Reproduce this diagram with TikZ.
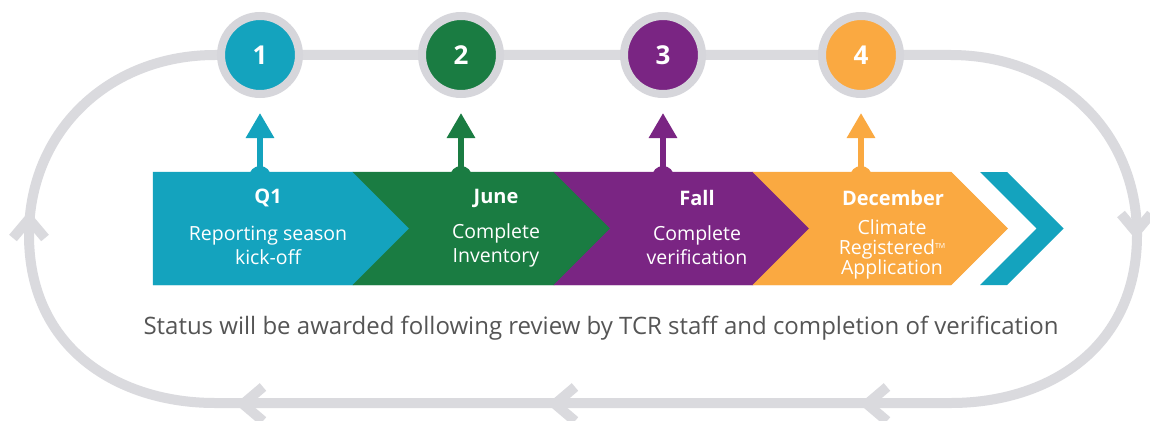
\documentclass[tikz,border=0pt]{standalone}
\usepackage{fontspec}
\setmainfont{Open Sans}
\usetikzlibrary{arrows.meta}
\definecolor{cteal}{RGB}{20,163,190}
\definecolor{cgreen}{RGB}{26,124,66}
\definecolor{cpurple}{RGB}{122,37,131}
\definecolor{corange}{RGB}{250,169,65}
\definecolor{cloop}{RGB}{218,218,222}
\definecolor{cring}{RGB}{214,214,219}
\definecolor{ctext}{RGB}{85,85,85}
\begin{document}
\begin{tikzpicture}[x=1pt,y=-1pt,
  loopline/.style={draw=cloop,line width=10pt,line join=round},
  chev/.style={draw=cloop,line width=10pt,line cap=butt,line join=miter},
  numcirc/.style={circle,minimum size=78pt,inner sep=0pt,draw=cring,line width=8pt,
    font=\bfseries\fontsize{26}{26}\selectfont,text=white},
  seghead/.style={font=\bfseries\fontsize{20}{20}\selectfont,text=white},
  segtext/.style={font=\fontsize{19.5}{24}\selectfont,text=white,align=center},
  segtextb/.style={font=\fontsize{19.5}{20}\selectfont,text=white,align=center},
  statust/.style={font=\fontsize{24}{24}\selectfont,text=ctext},
  upar/.style={line width=6pt,-{Triangle[width=27pt,length=25pt]},shorten >=15pt},
  seg/.style={line width=0.4pt}
]
\useasboundingbox (0,0) rectangle (1150,420);
\fill[white] (0,0) rectangle (1150,420);

% loop
\draw[loopline] (583,55) -- (951,55) .. controls (1056,55) and (1137,130) .. (1137,235)
  .. controls (1137,350) and (1046,403) .. (951,403) -- (215,403)
  .. controls (120,403) and (29,350) .. (29,235)
  .. controls (29,130) and (110,55) .. (215,55) -- (583,55);
% direction chevrons on the loop
\draw[chev] (13,238) -- (29,219) -- (45,238);
\draw[chev] (1121,214) -- (1136,232) -- (1151,214);
\draw[chev] (263,387) -- (243,404) -- (263,421);
\draw[chev] (575,387) -- (555,404) -- (575,421);
\draw[chev] (887,387) -- (867,404) -- (887,421);

% number circles
\node[numcirc,fill=cteal] (c1) at (260,55) {1};
\node[numcirc,fill=cgreen] (c2) at (461,55) {2};
\node[numcirc,fill=cpurple] (c3) at (663,55) {3};
\node[numcirc,fill=corange] (c4) at (861,55) {4};

% bumps under the arrows
\fill[cteal] (260,177) circle (11);
\fill[cgreen] (461,177) circle (11);
\fill[cpurple] (663,177) circle (11);
\fill[corange] (861,177) circle (11);

% banner segments
\filldraw[seg,fill=cteal,draw=cteal] (153,172) -- (353,172) -- (409.5,228.5) -- (353,285) -- (153,285) -- cycle;
\filldraw[seg,fill=cgreen,draw=cgreen] (353,172) -- (554,172) -- (610.5,228.5) -- (554,285) -- (353,285) -- (409.5,228.5) -- cycle;
\filldraw[seg,fill=cpurple,draw=cpurple] (554,172) -- (753,172) -- (809.5,228.5) -- (753,285) -- (554,285) -- (610.5,228.5) -- cycle;
\filldraw[seg,fill=corange,draw=corange] (753,172) -- (951,172) -- (1007.5,228.5) -- (951,285) -- (753,285) -- (809.5,228.5) -- cycle;
\fill[cteal] (980,172) -- (1007,172) -- (1063.5,228.5) -- (1007,285) -- (980,285) -- (1036.5,228.5) -- cycle;

% arrows from banner to circles
\coordinate (b1) at (260,176);
\coordinate (b2) at (461,176);
\coordinate (b3) at (663,176);
\coordinate (b4) at (861,176);
\draw[upar,cteal] (b1) -- (c1);
\draw[upar,cgreen] (b2) -- (c2);
\draw[upar,cpurple] (b3) -- (c3);
\draw[upar,corange] (b4) -- (c4);

% labels
\node[seghead] (h1) at (268,198) {Q1};
\node[segtext] (t1) at (268,245) {Reporting season\\kick-off};
\node[seghead] (h2) at (496,198) {June};
\node[segtext] (t2) at (496,245) {Complete\\Inventory};
\node[seghead] (h3) at (697,198) {Fall};
\node[segtext] (t3) at (697,245) {Complete\\verification};
\node[seghead] (h4) at (893,198) {December};
\node[segtextb] (t4) at (892,249) {Climate\\Registered{\fontsize{7}{7}\selectfont\raisebox{6pt}{TM}}\\Application};

\node[statust] (st) at (601,328) {Status will be awarded following review by TCR staff and completion of verification};
\end{tikzpicture}
\end{document}
